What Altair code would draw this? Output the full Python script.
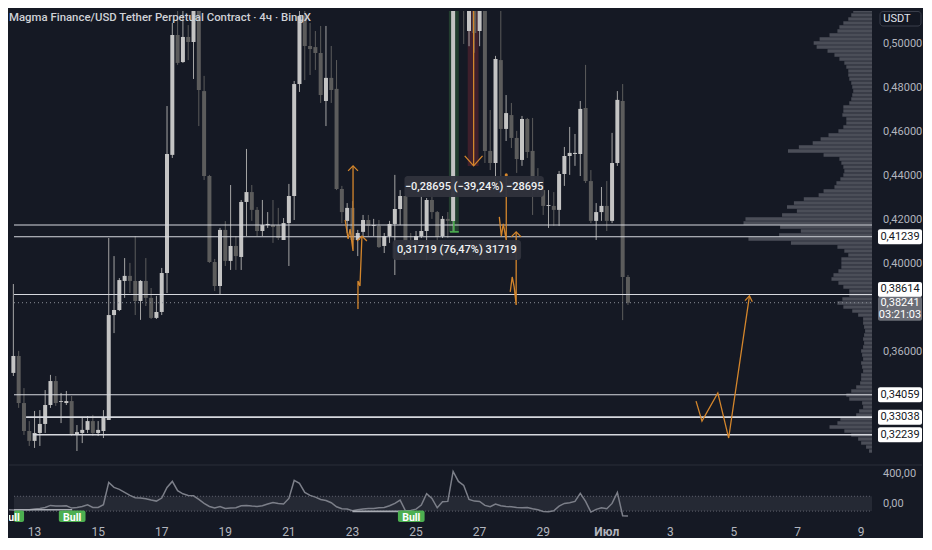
import altair as alt
import pandas as pd
from datetime import datetime, timedelta

# ------------------------------------------------------------------ data
TITLE = "Magma Finance/USD Tether Perpetual Contract · 4ч · BingX"
FIRST_CANDLE = datetime(2025, 6, 12, 4, 0)      # candle index 0, 4-hour candles
CANDLE_HOURS = 4

opens = [0.3996,0.3505,0.3582,0.3368,0.3241,0.3196,0.3232,0.3273,0.3359,0.3468,
         0.3373,0.3368,0.3377,0.3223,0.3232,0.3246,0.3286,0.3232,0.3241,0.3291,
         0.3768,0.3791,0.3923,0.3946,0.3923,0.3832,0.3923,0.3846,0.3755,0.3782,
         0.3959,0.4496,0.5041,0.4918,0.5032,0.5009,0.5232,0.4786,0.4400,0.4009,
         0.3900,0.4155,0.4014,0.4082,0.4032,0.4282,0.4327,0.4246,0.4150,0.4177,
         0.4177,0.4177,0.4109,0.4186,0.4309,0.4818,0.5127,0.4991,0.4986,0.4959,
         0.4741,0.4846,0.4796,0.4341,0.4196,0.4255,0.4109,0.4146,0.4200,0.4173,
         0.4173,0.4082,0.4127,0.4182,0.4250,0.4309,0.4105,0.4091,0.4127,0.4150,
         0.4291,0.4236,0.4127,0.4205,0.4196,0.6600,0.7000,0.5059,0.5600,0.5059,
         0.5500,0.4514,0.4459,0.4927,0.4614,0.4677,0.4573,0.4473,0.4659,0.4514,
         0.4359,0.4336,0.4264,0.4264,0.4246,0.4409,0.4491,0.4500,0.4500,0.4709,
         0.4377,0.4196,0.4236,0.4264,0.4196,0.4459,0.4741,0.3941]
highs = [0.4014,0.3909,0.3605,0.3436,0.3286,0.3332,0.3336,0.3427,0.3496,0.3491,
         0.3414,0.3423,0.3400,0.3268,0.3300,0.3309,0.3314,0.3286,0.3336,0.4118,
         0.4036,0.3936,0.4027,0.4005,0.4127,0.3927,0.4027,0.3891,0.3855,0.3982,
         0.4718,0.5096,0.5209,0.5159,0.5086,0.5323,0.5368,0.4855,0.4405,0.4023,
         0.4164,0.4195,0.4359,0.4127,0.4291,0.4523,0.4359,0.4259,0.4291,0.4236,
         0.4291,0.4255,0.4209,0.4364,0.4832,0.5177,0.5150,0.5096,0.5059,0.5082,
         0.5082,0.4991,0.4927,0.4355,0.4277,0.4286,0.4155,0.4223,0.4223,0.4205,
         0.4200,0.4141,0.4196,0.4405,0.4336,0.4314,0.4141,0.4150,0.4309,0.4300,
         0.4355,0.4241,0.4218,0.4236,0.6900,0.7319,0.7100,0.5800,0.5700,0.5600,
         0.5600,0.4700,0.4946,0.5232,0.4768,0.4732,0.4605,0.4673,0.4664,0.4664,
         0.4436,0.4336,0.4336,0.4327,0.4423,0.4532,0.4623,0.4591,0.4741,0.4905,
         0.4427,0.4277,0.4350,0.4377,0.4596,0.4786,0.4818,0.3950]
lows = [0.3400,0.3491,0.3346,0.3223,0.3173,0.3164,0.3173,0.3232,0.3346,0.3355,
        0.3277,0.3359,0.3218,0.3150,0.3186,0.3232,0.3218,0.3218,0.3209,0.3291,
        0.3686,0.3786,0.3846,0.3868,0.3768,0.3746,0.3809,0.3750,0.3750,0.3768,
        0.3868,0.4482,0.4905,0.4914,0.4927,0.4841,0.4627,0.4382,0.4005,0.3877,
        0.3859,0.3991,0.3973,0.3973,0.3973,0.4127,0.4196,0.4127,0.4127,0.4164,
        0.4096,0.4109,0.4109,0.3991,0.4200,0.4782,0.4836,0.4859,0.4882,0.4732,
        0.4627,0.4732,0.4336,0.4186,0.4141,0.4096,0.4036,0.4127,0.4127,0.4127,
        0.4073,0.4050,0.4096,0.3950,0.4177,0.4096,0.4082,0.4091,0.4118,0.4018,
        0.4205,0.4109,0.4118,0.4118,0.4148,0.6200,0.5000,0.4990,0.4960,0.4990,
        0.4459,0.4427,0.4355,0.4355,0.4559,0.4527,0.4414,0.4446,0.4482,0.4223,
        0.4323,0.4223,0.4164,0.4173,0.4173,0.4355,0.4405,0.4446,0.4400,0.4368,
        0.4186,0.4109,0.4196,0.4150,0.4186,0.4446,0.3745,0.3814]
closes = [0.3496,0.3582,0.3368,0.3241,0.3196,0.3232,0.3273,0.3359,0.3468,0.3368,
          0.3377,0.3377,0.3223,0.3236,0.3246,0.3286,0.3232,0.3246,0.3300,0.3768,
          0.3791,0.3927,0.3946,0.3923,0.3832,0.3923,0.3846,0.3755,0.3782,0.3959,
          0.4500,0.5041,0.4914,0.5032,0.5009,0.5232,0.4791,0.4400,0.4009,0.3900,
          0.4155,0.4014,0.4082,0.4036,0.4282,0.4327,0.4246,0.4150,0.4177,0.4182,
          0.4168,0.4118,0.4186,0.4309,0.4818,0.5127,0.4991,0.4977,0.4959,0.4768,
          0.4846,0.4791,0.4341,0.4236,0.4255,0.4109,0.4141,0.4200,0.4173,0.4177,
          0.4077,0.4127,0.4182,0.4250,0.4309,0.4105,0.4086,0.4127,0.4150,0.4291,
          0.4236,0.4123,0.4205,0.4196,0.6600,0.7000,0.5200,0.5600,0.5050,0.5500,
          0.4514,0.4459,0.4932,0.4614,0.4686,0.4573,0.4477,0.4659,0.4509,0.4359,
          0.4336,0.4264,0.4268,0.4246,0.4409,0.4491,0.4505,0.4505,0.4705,0.4377,
          0.4196,0.4236,0.4264,0.4196,0.4459,0.4746,0.3941,0.38241]
cci = [-82,-86,-86,-82,-82,-73,-64,-50,-23,-32,
       -32,-28,-59,-50,-37,-14,-50,-50,-14,287,
       220,193,152,112,80,76,67,49,35,76,
       220,301,175,134,112,107,58,4,-37,-59,
       -37,-64,-59,-55,-28,-23,-32,-37,-28,-5,
       17,4,-5,71,314,274,152,112,89,58,
       44,13,-41,-68,-73,-95,-82,-73,-64,-64,
       -55,-50,-28,4,49,-95,-91,-73,-19,134,
       71,-55,26,31,436,301,247,58,35,31,
       -23,-41,-5,-28,-37,-41,-50,-55,-50,-68,
       -82,-104,-109,-95,-32,4,13,31,139,31,
       -113,-77,-55,-68,4,152,-163,-167]

# volume profile: row width (reference px units) per price row, top row first
vp_width = [14,16,19,21,24,29,33,35,43,53,
            59,56,45,38,33,28,26,24,24,23,
            21,20,19,20,21,23,29,29,30,26,
            26,29,34,44,52,60,74,85,49,33,
            31,29,28,29,32,36,38,49,54,69,
            79,86,76,91,128,130,93,72,94,125,
            82,35,28,24,31,31,31,34,39,41,
            34,29,23,23,30,35,29,20,14,9,
            9,8,7,8,9,8,9,11,10,9,
            11,10,9,11,11,12,16,21,26,23,
            10,9,13,16,32,35,43,28,21,14,
            11,6,3]
VP_TOP = 0.51864
VP_ROW = 0.0018182

levels_thin = [0.4177, 0.41239, 0.38614, 0.34059]
levels_thin_anchor = [0, 0, 0, 0]              # candle index where each ray starts
levels_thick = [0.33038, 0.32239]
levels_thick_anchor = [3.4, 4.7]
label_prices = [0.41239, 0.34059, 0.33038, 0.32239]
label_texts = ["0,41239", "0,34059", "0,33038", "0,32239"]
label_shifted_price, label_shifted_text = 0.38614, "0,38614"
last_price, last_text, countdown = 0.38241, "0,38241", "03:21:03"

price_ticks = [0.36, 0.40, 0.42, 0.44, 0.46, 0.48, 0.50]
price_tick_labels = ["0,36000", "0,40000", "0,42000", "0,44000", "0,46000", "0,48000", "0,50000"]
cci_ticks = [400, 0]
cci_tick_labels = ["400,00", "0,00"]
date_labels = ["13", "15", "17", "19", "21", "23", "25", "27", "29", "Июл", "3", "5", "7", "9"]
date_values = [datetime(2025, 6, 13) + timedelta(days=2 * k) for k in range(14)]

# hand-drawn orange annotations: (candle index, price)
orange_paths = {
    "a": [(63.62, 0.4200), (64.18, 0.4114), (64.55, 0.4159), (65.11, 0.4059), (65.11, 0.4446)],
    "b": [(66.04, 0.3796), (66.04, 0.3923), (66.42, 0.3900), (66.79, 0.4127)],
    "c": [(92.72, 0.4214), (93.10, 0.4127), (93.47, 0.4182), (94.03, 0.4109), (94.03, 0.4405)],
    "e": [(94.78, 0.3873), (95.15, 0.3941), (95.52, 0.3896), (95.90, 0.3814), (95.90, 0.4146)],
    "f": [(129.85, 0.3377), (130.97, 0.3286), (133.96, 0.3414), (136.01, 0.3209), (139.93, 0.3855)],
    "r": [(87.87, 0.5400), (87.87, 0.4446)],
}
arrow_heads = [(65.11, 0.4446, "up"), (66.79, 0.4127, "up"), (95.90, 0.4146, "up"),
               (139.93, 0.3855, "upright"), (87.87, 0.4446, "down")]
orange_dot = [(94.03, 0.4405)]

green_zone = (83.2, 85.07, 0.4146, 0.5400)
red_zone = (86.75, 88.8, 0.4446, 0.5400)
green_h = (83.4, 85.07, 0.4146)
green_v = (84.14, 0.4146, 0.4196)
measure_down = (87.97, 0.4352, "\u22120,28695 (\u221239,24%) \u221228695", 141, 21)
measure_up = (84.7, 0.4064, "0,31719 (76,47%) 31719", 130, 20)

bull_labels = [0.5, 12.1, 76.1]
bull_value = -193
div_segments = [(0.0, 12.1, -81), (65.0, 76.1, -103)]

# ------------------------------------------------------------------ geometry
BG = "#151924"
FONT = "Roboto"
ORANGE = "#d4862c"
AXIS_TXT = "#b2b5be"
W, HM, HI = 868, 454, 57          # plot width, price-pane height, oscillator-pane height
H = HM + HI
RX = W + 45                       # right edge of the price-scale column
P_LO, P_HI = 0.30864, 0.51500     # price range of the price pane
PR_PX = (P_HI - P_LO) / HM        # price per pixel
C_HI, C_PX = 522.5, 13.5          # oscillator value at pane top, oscillator units per pixel
Y_LO = P_LO - HI * PR_PX          # bottom of the shared y scale (bottom of oscillator pane)
X0, X1 = 1.119, 163.06            # candle-index range of the plot
IDX_PX = (X1 - X0) / W            # candle index per pixel

def oy(v):                        # oscillator value -> shared y scale
    return P_LO - (C_HI - v) / C_PX * PR_PX

OSC_EXPR = f"{P_LO} - ({C_HI} - datum.cci) / {C_PX} * {PR_PX}"

xs = alt.Scale(domain=[X0, X1], nice=False, zero=False)
ys = alt.Scale(domain=[Y_LO, P_HI], nice=False, zero=False)

def XI(f):
    return alt.X(f + ":Q", scale=xs, axis=None)

def YP(f):
    return alt.Y(f + ":Q", scale=ys, axis=None)

candles = pd.DataFrame({"i": list(range(len(opens))), "open": opens, "high": highs,
                        "low": lows, "close": closes, "cci": cci})

layers = []

# oscillator band and dotted bounds
band_df = pd.DataFrame({"a": [X0], "b": [X1], "hi": [oy(100)], "lo": [oy(-100)]})
layers.append(alt.Chart(band_df).mark_rect(color="#252934").encode(x=XI("a"), x2="b:Q", y=YP("hi"), y2="lo:Q"))
layers.append(alt.Chart(band_df).mark_rule(color="#5d606b", strokeDash=[1, 2]).encode(x=XI("a"), x2="b:Q", y=YP("hi")))
layers.append(alt.Chart(band_df).mark_rule(color="#5d606b", strokeDash=[1, 2]).encode(x=XI("a"), x2="b:Q", y=YP("lo")))

# measure zones
for z, col in [(green_zone, "#233e30"), (red_zone, "#3f1f2b")]:
    d = pd.DataFrame({"a": [z[0]], "b": [z[1]], "lo": [z[2]], "hi": [min(z[3], P_HI)]})
    layers.append(alt.Chart(d).mark_rect(color=col).encode(x=XI("a"), x2="b:Q", y=YP("lo"), y2="hi:Q"))

# volume profile hanging from the right edge
vpdf = pd.DataFrame({"w": vp_width,
                     "hi": [min(VP_TOP - k * VP_ROW + 0.00077, P_HI) for k in range(len(vp_width))],
                     "lo": [VP_TOP - k * VP_ROW - 0.00077 for k in range(len(vp_width))]})
layers.append(alt.Chart(vpdf).transform_filter(f"datum.lo < {P_HI}").transform_calculate(
    left=f"{X1} - datum.w * {IDX_PX}", right=f"{X1}"
).mark_rect(color="#4b4e58").encode(x=XI("left"), x2="right:Q", y=YP("hi"), y2="lo:Q"))

# candles
up = "datum.close >= datum.open"
dn = "datum.close < datum.open"
for test, wick_c, body_c in [(up, "#a4a4a4", "#c4c4c4"), (dn, "#5c5c5c", "#5c5c5c")]:
    layers.append(alt.Chart(candles).transform_filter(test).transform_filter(f"datum.i >= {X0 - 0.5}")
                  .mark_rule(clip=True, strokeWidth=1, color=wick_c)
                  .encode(x=XI("i"), y=YP("low"), y2="high:Q"))
    layers.append(alt.Chart(candles).transform_filter(test).transform_filter(f"datum.i >= {X0 - 0.5}")
                  .mark_bar(clip=True, size=4, color=body_c)
                  .encode(x=XI("i"), y=YP("open"), y2="close:Q"))

# horizontal levels
for prices, anchors, sw in [(levels_thin, levels_thin_anchor, 1.1), (levels_thick, levels_thick_anchor, 1.6)]:
    d = pd.DataFrame({"p": prices, "s": [max(a, X0) for a in anchors], "e": [X1] * len(prices)})
    layers.append(alt.Chart(d).mark_rule(color="#d6d8de", strokeWidth=sw).encode(x=XI("s"), x2="e:Q", y=YP("p")))
cur = pd.DataFrame({"p": [last_price], "s": [X0], "e": [X1]})
layers.append(alt.Chart(cur).mark_rule(color="#8a8d96", strokeDash=[1, 3]).encode(x=XI("s"), x2="e:Q", y=YP("p")))

# green marker of the long measure
gh = pd.DataFrame({"a": [green_h[0]], "b": [green_h[1]], "p": [green_h[2]]})
gv = pd.DataFrame({"t": [green_v[0]], "p1": [green_v[1]], "p2": [green_v[2]]})
layers.append(alt.Chart(gh).mark_rule(color="#4caf50", strokeWidth=1.6).encode(x=XI("a"), x2="b:Q", y=YP("p")))
layers.append(alt.Chart(gv).mark_rule(color="#4caf50", strokeWidth=1.6).encode(x=XI("t"), y=YP("p1"), y2="p2:Q"))

# orange drawings with chevron heads
rows = []
for k, pts in orange_paths.items():
    for j, (i, p) in enumerate(pts):
        rows.append({"path": k, "o": j, "t": i, "p": min(p, P_HI)})
for n, (i, p, kind) in enumerate(arrow_heads):
    if kind == "up":
        arm = [(-5, -5), (0, 0), (5, -5)]
    elif kind == "down":
        arm = [(-9, 10), (0, 0), (9, 10)]
    else:
        arm = [(-4.5, -4.7), (0, 0), (2.9, -5.8)]
    for j, (dx, dy) in enumerate(arm):
        rows.append({"path": f"h{n}", "o": j, "t": i + dx * IDX_PX, "p": p + dy * PR_PX})
op = pd.DataFrame(rows)
layers.append(alt.Chart(op).mark_line(color=ORANGE, strokeWidth=1.3).encode(
    x=XI("t"), y=YP("p"), detail="path:N", order="o:Q"))
od = pd.DataFrame([{"t": i, "p": p} for i, p in orange_dot])
layers.append(alt.Chart(od).mark_circle(color=ORANGE, size=10, opacity=1).encode(x=XI("t"), y=YP("p")))

# measure labels
for i, p, txt, w_px, h_px in [measure_down, measure_up]:
    d = pd.DataFrame({"t": [i], "a": [i - w_px / 2 * IDX_PX], "b": [i + w_px / 2 * IDX_PX],
                      "p": [p], "lo": [p - h_px / 2 * PR_PX], "hi": [p + h_px / 2 * PR_PX], "txt": [txt]})
    layers.append(alt.Chart(d).mark_rect(color="#30333d", opacity=0.95, cornerRadius=3).encode(
        x=XI("a"), x2="b:Q", y=YP("lo"), y2="hi:Q"))
    layers.append(alt.Chart(d).mark_text(font=FONT, fontSize=11, fontWeight=500, color="#f0f1f3",
                                         align="center", baseline="middle").encode(x=XI("t"), y=YP("p"), text="txt:N"))

# price scale texts on the right
LX = W + 23
pt = pd.DataFrame({"p": price_ticks, "txt": price_tick_labels})
layers.append(alt.Chart(pt).mark_text(font=FONT, fontSize=11, color=AXIS_TXT, align="left", baseline="middle").encode(
    x=alt.value(W + 6), y=YP("p"), text="txt:N"))
ct = pd.DataFrame({"v": cci_ticks, "txt": cci_tick_labels})
layers.append(alt.Chart(ct).transform_calculate(y=f"{P_LO} - ({C_HI} - datum.v) / {C_PX} * {PR_PX}").mark_text(
    font=FONT, fontSize=11, color=AXIS_TXT, align="left", baseline="middle").encode(
    x=alt.value(W + 6), y=YP("y"), text="txt:N"))

def price_label(prices, texts, fill, color, up_px, down_px, shift=0):
    d = pd.DataFrame({"p": prices, "txt": texts,
                      "hi": [p + (up_px + shift) * PR_PX for p in prices],
                      "lo": [p - (down_px - shift) * PR_PX for p in prices],
                      "tp": [p + shift * PR_PX for p in prices]})
    box = alt.Chart(d).mark_rect(color=fill, cornerRadius=2).encode(
        x=alt.value(W + 1), x2=alt.value(RX), y=YP("hi"), y2="lo:Q")
    txt = alt.Chart(d).mark_text(font=FONT, fontSize=11, color=color, align="center", baseline="middle").encode(
        x=alt.value(LX), y=YP("tp"), text="txt:N")
    return [box, txt]

layers += price_label(label_prices, label_texts, "#ffffff", "#131722", 7.5, 7.5)
layers += price_label([label_shifted_price], [label_shifted_text], "#ffffff", "#131722", 7.5, 7.5, shift=5)
layers += price_label([last_price], [last_text], "#6a6d76", "#ffffff", 6, 18)
gp = pd.DataFrame({"p": [last_price - 12 * PR_PX], "cd": [countdown]})
layers.append(alt.Chart(gp).mark_text(font=FONT, fontSize=11, color="#ffffff", align="center",
                                      baseline="middle").encode(x=alt.value(LX), y=YP("p"), text="cd:N"))

# oscillator line, divergence segments and Bull labels
layers.append(alt.Chart(candles).transform_calculate(y=OSC_EXPR).mark_line(
    clip=True, color="#7c7f89", strokeWidth=1.5).encode(x=XI("i"), y=YP("y")))
dv = pd.DataFrame([{"a": max(a, X0), "b": b, "v": oy(v)} for a, b, v in div_segments])
layers.append(alt.Chart(dv).mark_rule(color="#a8abb3", strokeWidth=1.6).encode(x=XI("a"), x2="b:Q", y=YP("v")))
bl = pd.DataFrame({"t": bull_labels, "txt": ["Bull"] * len(bull_labels)})
bl["a"] = [max(t - 13.5 * IDX_PX, X0) for t in bl["t"]]
bl["b"] = bl["t"] + 13.5 * IDX_PX
bl["v"] = oy(bull_value)
bl["hi"] = oy(bull_value + 7.5 * C_PX)
bl["lo"] = max(oy(bull_value - 7.5 * C_PX), Y_LO)
layers.append(alt.Chart(bl).mark_rect(color="#4caf50", cornerRadius=2).encode(
    x=XI("a"), x2="b:Q", y=YP("hi"), y2="lo:Q"))
layers.append(alt.Chart(bl).mark_text(
    font=FONT, fontSize=10.5, fontWeight="bold", color="#ffffff", align="center", baseline="middle",
    clip=True).encode(x=XI("t"), y=YP("v"), text="txt:N"))

# pane separator
sep = pd.DataFrame({"p": [P_LO]})
layers.append(alt.Chart(sep).mark_rule(color="#2a2e39", strokeWidth=1).encode(
    x=alt.value(0), x2=alt.value(RX), y=YP("p")))

# date labels under the oscillator
dd = pd.DataFrame({"t": [(d - FIRST_CANDLE).total_seconds() / 3600 / CANDLE_HOURS for d in date_values],
                   "txt": date_labels})
layers.append(alt.Chart(dd).transform_filter("datum.txt != 'Июл'").mark_text(
    font=FONT, fontSize=12, color=AXIS_TXT, align="center", baseline="middle").encode(
    x=XI("t"), y=alt.value(H + 10), text="txt:N"))
layers.append(alt.Chart(dd).transform_filter("datum.txt == 'Июл'").mark_text(
    font=FONT, fontSize=12, fontWeight="bold", color=AXIS_TXT, align="center", baseline="middle").encode(
    x=XI("t"), y=alt.value(H + 10), text="txt:N"))

# title and currency box
tdf = pd.DataFrame({"txt": [TITLE]})
layers.append(alt.Chart(tdf).mark_text(font=FONT, fontSize=11.4, fontWeight=500, color="#cfd1d6", align="left",
                                       baseline="middle").encode(x=alt.value(0), y=alt.value(6.5), text="txt:N"))
udf = pd.DataFrame({"txt": ["USDT"]})
layers.append(alt.Chart(udf).mark_rect(fill="#131722", stroke="#3a3e4a", strokeWidth=1, cornerRadius=3).encode(
    x=alt.value(W + 3), x2=alt.value(RX - 1), y=alt.value(0.5), y2=alt.value(15)))
layers.append(alt.Chart(udf).mark_text(font=FONT, fontSize=11, color="#e0e3eb", align="center",
                                       baseline="middle").encode(x=alt.value(LX - 3), y=alt.value(8), text="txt:N"))

chart = alt.layer(*layers).properties(width=W, height=H, background=BG, padding=0).configure_view(strokeWidth=0)

chart.save("out.html", embed_options={"renderer": "svg", "actions": False})
